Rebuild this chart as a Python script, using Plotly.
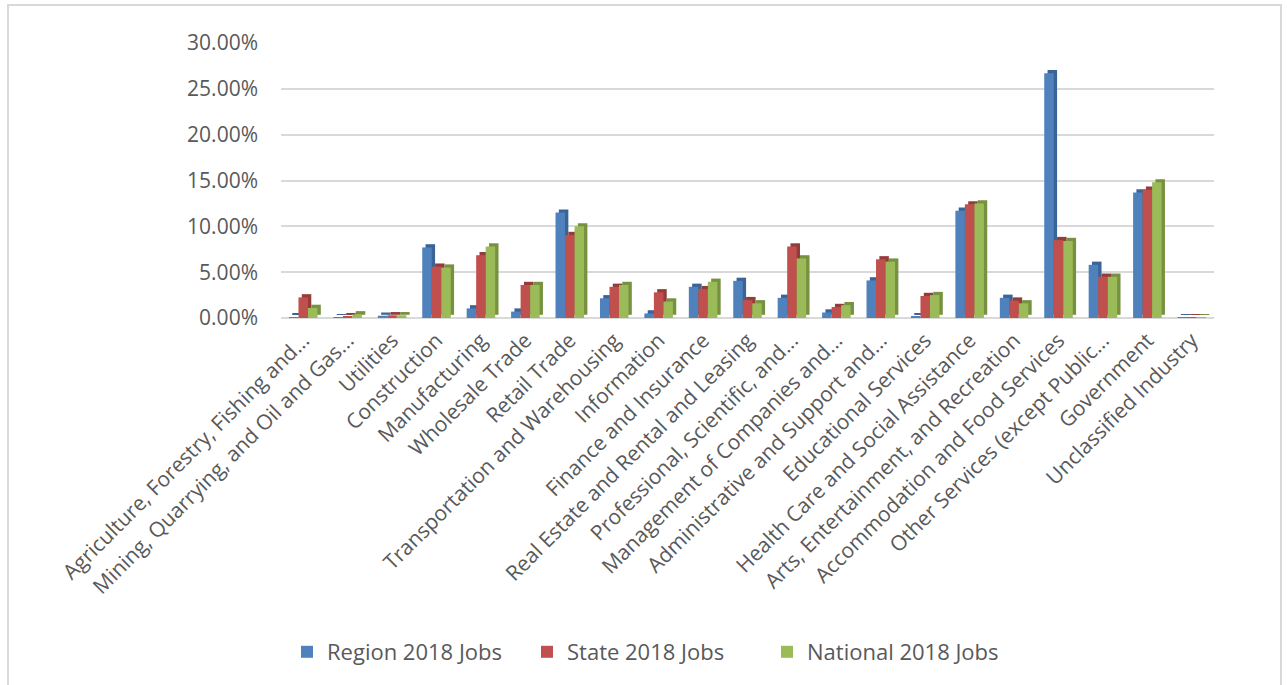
import plotly.graph_objects as go

# Share of 2018 jobs by industry
industries = [
    "Agriculture, Forestry, Fishing and...",
    "Mining, Quarrying, and Oil and Gas...",
    "Utilities",
    "Construction",
    "Manufacturing",
    "Wholesale Trade",
    "Retail Trade",
    "Transportation and Warehousing",
    "Information",
    "Finance and Insurance",
    "Real Estate and Rental and Leasing",
    "Professional, Scientific, and...",
    "Management of Companies and...",
    "Administrative and Support and...",
    "Educational Services",
    "Health Care and Social Assistance",
    "Arts, Entertainment, and Recreation",
    "Accommodation and Food Services",
    "Other Services (except Public...",
    "Government",
    "Unclassified Industry",
]

region_2018 = [0.0010, 0.0005, 0.0025, 0.0770, 0.0105, 0.0070, 0.1150, 0.0215, 0.0050, 0.0340, 0.0405,
               0.0220, 0.0060, 0.0410, 0.0015, 0.1170, 0.0220, 0.2670, 0.0580, 0.1370, 0.0002]
state_2018 = [0.0225, 0.0020, 0.0030, 0.0560, 0.0685, 0.0360, 0.0905, 0.0340, 0.0280, 0.0315, 0.0195,
              0.0780, 0.0120, 0.0640, 0.0240, 0.1240, 0.0190, 0.0850, 0.0450, 0.1400, 0.0002]
national_2018 = [0.0110, 0.0040, 0.0030, 0.0550, 0.0780, 0.0360, 0.1000, 0.0360, 0.0180, 0.0395, 0.0160,
                 0.0650, 0.0140, 0.0615, 0.0250, 0.1250, 0.0160, 0.0840, 0.0450, 0.1480, 0.0002]

series_names = ["Region 2018 Jobs", "State 2018 Jobs", "National 2018 Jobs"]
face_colors = ["#4f81bd", "#c0504d", "#9bbb59"]
side_colors = ["#3a6497", "#943c3a", "#76913f"]
series_values = [region_2018, state_2018, national_2018]

# Layout geometry (pixels)
W, H = 1287, 685
PLOT_L, PLOT_R = 281, 1214
PLOT_T, PLOT_B = 43, 318
plot_w = PLOT_R - PLOT_L
plot_h = PLOT_B - PLOT_T

BAR_W = 0.214          # width of one column, in category units
DEPTH_X = 0.075        # horizontal depth of the column side face
DEPTH_Y = 0.0035       # vertical depth of the column top face

text_font = "Open Sans, Calibri, Carlito, sans-serif"
text_color = "#595959"

fig = go.Figure()

offsets = [-1.5 * BAR_W, -0.5 * BAR_W, 0.5 * BAR_W]

# Side/top faces drawn first so the front faces sit on top
for vals, off, col in zip(series_values, offsets, side_colors):
    fig.add_trace(go.Bar(
        x=industries, y=vals, base=DEPTH_Y, width=BAR_W, offset=off + DEPTH_X,
        marker=dict(color=col, line=dict(width=0)), showlegend=False, hoverinfo="skip",
    ))

for name, vals, off, col in zip(series_names, series_values, offsets, face_colors):
    fig.add_trace(go.Bar(
        x=industries, y=vals, name=name, width=BAR_W, offset=off,
        marker=dict(color=col, line=dict(width=0)),
    ))


def px_x(px):
    return (px - PLOT_L) / plot_w


def px_y(py):
    return (PLOT_B - py) / plot_h


fig.update_layout(
    width=W, height=H,
    barmode="overlay",
    margin=dict(l=PLOT_L, r=W - PLOT_R, t=PLOT_T, b=H - PLOT_B, autoexpand=False),
    paper_bgcolor="white",
    plot_bgcolor="white",
    font=dict(family=text_font, color=text_color, size=20),
    legend=dict(
        orientation="h",
        x=px_x(287), y=px_y(652), xanchor="left", yanchor="middle",
        font=dict(size=22, color=text_color),
        itemwidth=30,
        entrywidth=195,
        entrywidthmode="pixels",
        traceorder="normal",
    ),
    xaxis=dict(
        range=[-0.5, len(industries) - 0.5],
        tickangle=-45,
        showgrid=False,
        showline=False,
        ticks="",
        tickfont=dict(size=21, color=text_color),
        ticklabelstandoff=5,
    ),
    yaxis=dict(
        range=[0, 0.30],
        dtick=0.05,
        tickformat=".2%",
        showgrid=True,
        gridcolor="#d9d9d9",
        gridwidth=2,
        zeroline=True,
        zerolinecolor="#d9d9d9",
        zerolinewidth=2,
        showline=False,
        ticks="",
        tickfont=dict(size=21, color=text_color),
        ticklabelstandoff=22,
    ),
    shapes=[
        dict(
            type="rect", xref="paper", yref="paper",
            x0=px_x(8), x1=px_x(1281), y0=px_y(700), y1=px_y(5),
            line=dict(color="#d9d9d9", width=2), fillcolor="rgba(0,0,0,0)", layer="below",
        )
    ],
)

fig.write_html("out.html")
